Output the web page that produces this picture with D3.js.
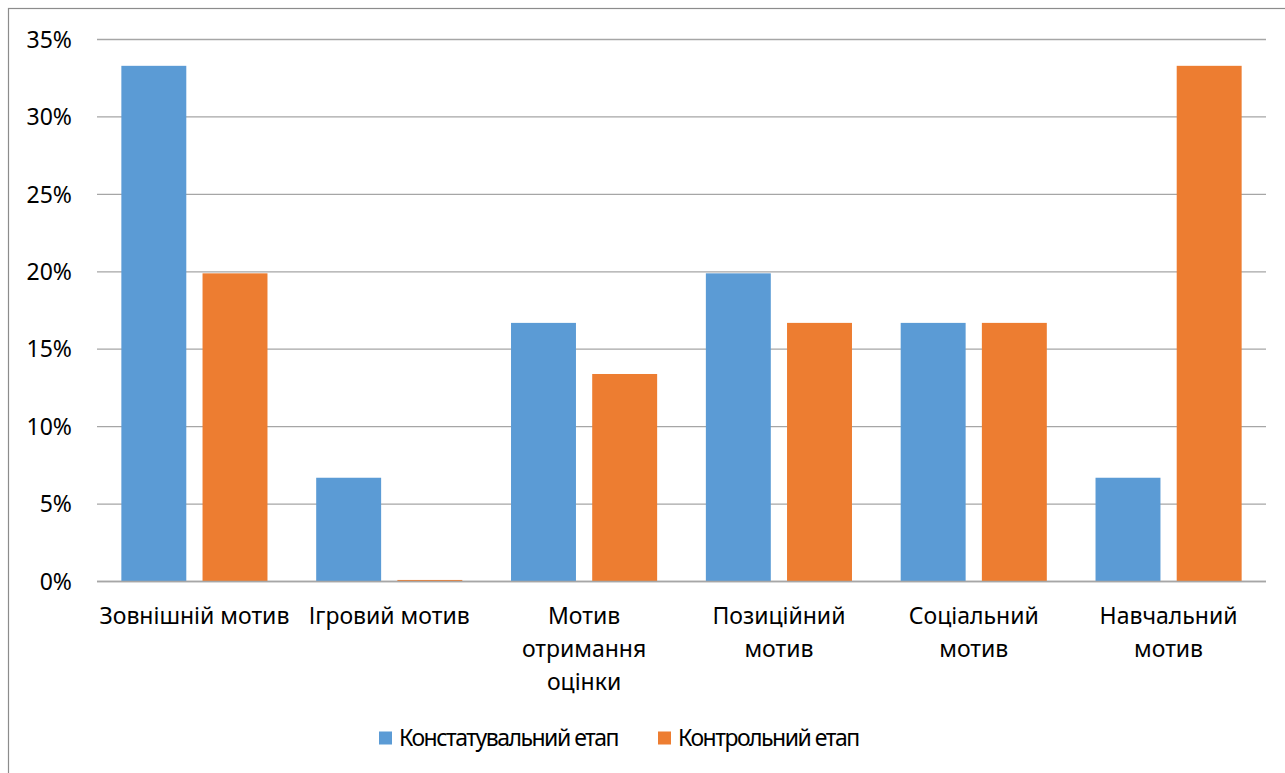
<!DOCTYPE html>
<html>
<head>
<meta charset="utf-8">
<script src="https://cdn.jsdelivr.net/npm/d3@7"></script>
<style>
  html, body { margin: 0; padding: 0; background: #fff; }
  svg { display: block; }
  text { font-family: "Noto Sans", "Open Sans", sans-serif; fill: #000; }
</style>
</head>
<body>
<svg id="chart" width="1285" height="773"></svg>
<script>
const categories = ["Зовнішній мотив", "Ігровий мотив", "Мотив отримання оцінки", "Позиційний мотив", "Соціальний мотив", "Навчальний мотив"];
const categoryLines = [["Зовнішній мотив"], ["Ігровий мотив"], ["Мотив", "отримання", "оцінки"], ["Позиційний", "мотив"], ["Соціальний", "мотив"], ["Навчальний", "мотив"]];
const seriesNames = ["Констатувальний етап", "Контрольний етап"];
const constatValues = [33.3, 6.7, 16.7, 19.9, 16.7, 6.7];
const controlValues = [19.9, 0.1, 13.4, 16.7, 16.7, 33.3];
const yTicks = [0, 5, 10, 15, 20, 25, 30, 35];
const colors = ["#5b9bd5", "#ed7d31"];

const seriesValues = [constatValues, controlValues];
const svg = d3.select("#chart");
const W = 1285, H = 773;
const plot = { left: 97, right: 1266, top: 39.5, bottom: 581.5 };
const fontSize = 23;

// outer frame
svg.append("rect").attr("x", 8.5).attr("y", 8.5).attr("width", W + 10).attr("height", H + 10)
  .attr("fill", "#fff").attr("stroke", "#8c8c8c").attr("stroke-width", 1.2);

const y = d3.scaleLinear().domain([0, 35]).range([plot.bottom, plot.top]);
const x0 = d3.scaleBand().domain(categories).range([plot.left, plot.right]).padding(0);
const groupW = x0.bandwidth() * 0.75;
const x1 = d3.scaleBand().domain(seriesNames).range([0, groupW]).paddingInner(0.2);

// gridlines
svg.append("g").selectAll("line").data(yTicks).join("line")
  .attr("x1", plot.left).attr("x2", plot.right)
  .attr("y1", d => y(d)).attr("y2", d => y(d))
  .attr("stroke", "#a6a6a6").attr("stroke-width", 1.3);

// y labels
svg.append("g").selectAll("text").data(yTicks).join("text")
  .attr("x", 72).attr("y", d => y(d)).attr("dy", "0.36em")
  .attr("text-anchor", "end").attr("font-size", fontSize)
  .text(d => d + "%");

// bars
const groups = svg.append("g").selectAll("g").data(categories).join("g")
  .attr("transform", c => `translate(${x0(c) + (x0.bandwidth() - groupW) / 2},0)`);
groups.selectAll("rect").data((c, i) => seriesNames.map((s, j) => ({ s, j, v: seriesValues[j][i] })))
  .join("rect")
  .attr("x", d => x1(d.s)).attr("width", x1.bandwidth())
  .attr("y", d => y(d.v)).attr("height", d => y(0) - y(d.v))
  .attr("fill", d => colors[d.j]);

// redraw baseline over bars
svg.append("line").attr("x1", plot.left).attr("x2", plot.right)
  .attr("y1", y(0)).attr("y2", y(0)).attr("stroke", "#a6a6a6").attr("stroke-width", 1.3);

// category labels
const catG = svg.append("g").selectAll("text").data(categories).join("text")
  .attr("x", c => x0(c) + x0.bandwidth() / 2)
  .attr("text-anchor", "middle").attr("font-size", fontSize);
catG.selectAll("tspan").data((c, i) => categoryLines[i]).join("tspan")
  .attr("x", function () { return this.parentNode.getAttribute("x"); })
  .attr("y", (d, k) => 624 + k * 33)
  .text(d => d);

// legend
const legend = svg.append("g");
const legendItems = [{ name: seriesNames[0], x: 379 }, { name: seriesNames[1], x: 658 }];
legendItems.forEach((it, j) => {
  legend.append("rect").attr("x", it.x).attr("y", 731.5).attr("width", 13).attr("height", 13).attr("fill", colors[j]);
  legend.append("text").attr("x", it.x + 20).attr("y", 746).attr("font-size", fontSize)
    .attr("letter-spacing", -1.5).text(it.name);
});
</script>
</body>
</html>
